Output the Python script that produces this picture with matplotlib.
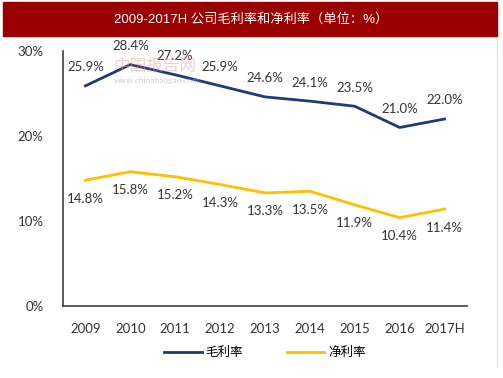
import matplotlib
matplotlib.use("Agg")
import matplotlib.pyplot as plt
from matplotlib.patches import Rectangle
from matplotlib.ticker import FuncFormatter

plt.rcParams["font.family"] = ["Lato", "Noto Sans CJK SC", "DejaVu Sans"]

years = ["2009", "2010", "2011", "2012", "2013", "2014", "2015", "2016", "2017H"]
gross = [25.9, 28.4, 27.2, 25.9, 24.6, 24.1, 23.5, 21.0, 22.0]
net = [14.8, 15.8, 15.2, 14.3, 13.3, 13.5, 11.9, 10.4, 11.4]

navy = "#1F3A78"
gold = "#FFC000"

fig = plt.figure(figsize=(5.03, 3.78), dpi=100)

# title bar
fig.patches.append(Rectangle((3 / 503, 1 - 36 / 378), 494 / 503, 34 / 378,
                             transform=fig.transFigure, color="#9B0000", zorder=0))
fig.text(0.5, 1 - 19 / 378, "2009-2017H 公司毛利率和净利率（单位：%）", color="white",
         ha="center", va="center", fontsize=9.5,
         family=["Liberation Sans", "Noto Sans CJK SC"])
fig.add_artist(plt.Line2D([497 / 503, 497 / 503], [0.03, 1 - 38 / 378],
                          transform=fig.transFigure, color="#E0E0E0", lw=0.8))

ax = fig.add_axes([63 / 503, 1 - 306 / 378, 404 / 503, 255 / 378])
x = list(range(len(years)))
ax.plot(x, gross, color=navy, lw=2, label="毛利率")
ax.plot(x, net, color=gold, lw=2, label="净利率")

for i in x:
    ax.annotate(f"{gross[i]:.1f}%", (i, gross[i]), xytext=(0, 9), textcoords="offset points",
                ha="center", va="bottom", fontsize=9.5, color="#333333")
    ax.annotate(f"{net[i]:.1f}%", (i, net[i]), xytext=(0, -9), textcoords="offset points",
                ha="center", va="top", fontsize=9.5, color="#333333")

# watermark
ax.text(1.55, 28.2, "中国报告网", color="#E8A0A0", fontsize=12, alpha=0.5,
        ha="center", va="center", family=["Noto Sans CJK SC"])
ax.text(1.6, 26.5, "www.chinabaogao.com", color="#B0B0B0", fontsize=6, alpha=0.6,
        ha="center", va="center")

ax.set_xlim(-0.5, 8.5)
ax.set_ylim(0, 30)
ax.set_yticks([0, 10, 20, 30])
ax.yaxis.set_major_formatter(FuncFormatter(lambda v, p: f"{v:.0f}%"))
ax.set_xticks(x)
ax.set_xticklabels(years)
ax.tick_params(length=0, labelsize=9.5, colors="#333333")
ax.tick_params(axis="x", pad=12)
ax.tick_params(axis="y", pad=14)
for s in ["top", "right"]:
    ax.spines[s].set_visible(False)
for s in ["left", "bottom"]:
    ax.spines[s].set_color("#404040")
    ax.spines[s].set_linewidth(1.2)

ax.legend(loc="center", bbox_to_anchor=(0.5, -0.18), ncol=2, frameon=False,
          fontsize=9, handlelength=3, handletextpad=0.3, columnspacing=3.5)

fig.savefig("out.png", dpi=100)
